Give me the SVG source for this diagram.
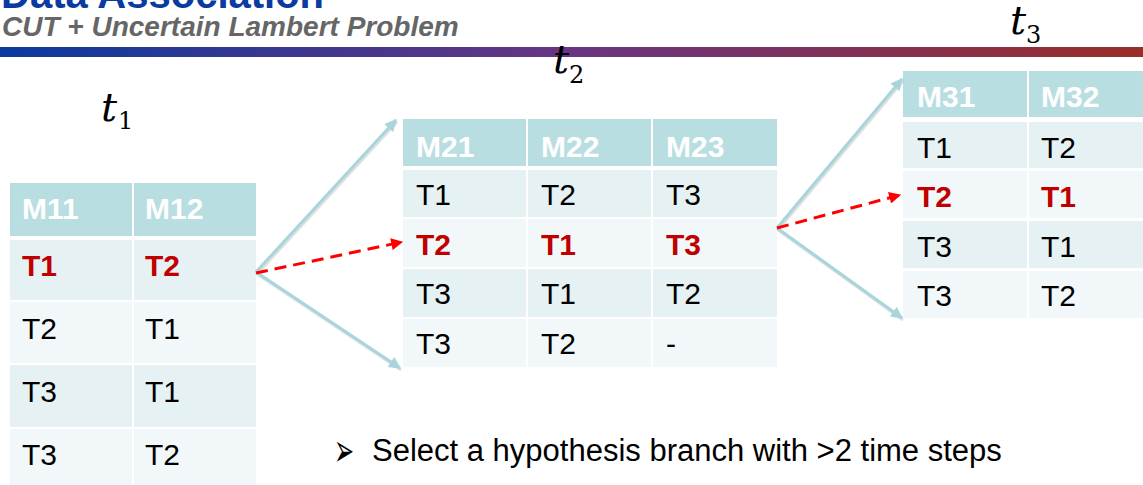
<svg xmlns="http://www.w3.org/2000/svg" width="1143" height="485" viewBox="0 0 1143 485">
<defs>
<linearGradient id="bar" x1="0" y1="0" x2="1" y2="0">
<stop offset="0" stop-color="#0B3A9E"/>
<stop offset="0.5" stop-color="#693581"/>
<stop offset="1" stop-color="#992D29"/>
</linearGradient>
<marker id="ah" viewBox="0 0 10 10" refX="9" refY="5" markerWidth="4.5" markerHeight="4" orient="auto" markerUnits="strokeWidth">
<path d="M0,0 L10,5 L0,10 z" fill="#A8D5DA"/>
</marker>
<marker id="ahr" viewBox="0 0 10 10" refX="9" refY="5" markerWidth="4.5" markerHeight="4" orient="auto" markerUnits="strokeWidth">
<path d="M0,0 L10,5 L0,10 z" fill="#FF0000"/>
</marker>
<style>
.hd{fill:#B8DEE1}
.dk{fill:#E5F1F3}
.lt{fill:#F2F8F9}
.th{font-family:"Liberation Sans",Arial,sans-serif;font-weight:bold;font-size:30px;fill:#FFFFFF}
.tx{font-family:"Liberation Sans",Arial,sans-serif;font-size:30px;fill:#000000}
.rd{font-family:"Liberation Sans",Arial,sans-serif;font-weight:bold;font-size:30px;fill:#C00000}
.tv{font-family:"DejaVu Serif",serif;font-style:italic;font-size:40px;fill:#000}
.ts{font-family:"DejaVu Serif",serif;font-size:24px;fill:#000}
.ar{fill:none;stroke:#A8D5DA;stroke-width:3}
.sh{fill:none;stroke:#000;stroke-opacity:0.12;stroke-width:3}
.rl{fill:none;stroke:#FF0000;stroke-width:3;stroke-dasharray:12 7}
</style>
</defs>
<rect width="1143" height="485" fill="#FFFFFF"/>
<g id="header">
<text x="1" y="8" font-family="Liberation Sans, Arial, sans-serif" font-weight="bold" font-size="40" fill="#0A3BA2">Data Association</text>
<text x="2" y="36" font-family="Liberation Sans, Arial, sans-serif" font-weight="bold" font-style="italic" font-size="28" fill="#666666">CUT + Uncertain Lambert Problem</text>
<rect x="0" y="47" width="1143" height="10" fill="url(#bar)"/>
</g>
<g id="label-t1"><text class="tv" x="101" y="121">t</text><text class="ts" x="118" y="129">1</text></g>
<g id="label-t2"><text class="tv" x="553" y="73">t</text><text class="ts" x="569" y="83">2</text></g>
<g id="label-t3"><text class="tv" x="1010" y="34">t</text><text class="ts" x="1026" y="43">3</text></g>
<g id="table1">
<rect class="hd" x="10" y="183" width="122" height="53"/><rect class="hd" x="134" y="183" width="122" height="53"/>
<rect class="dk" x="10" y="240" width="122" height="60"/><rect class="dk" x="134" y="240" width="122" height="60"/>
<rect class="lt" x="10" y="302" width="122" height="61"/><rect class="lt" x="134" y="302" width="122" height="61"/>
<rect class="dk" x="10" y="365" width="122" height="62"/><rect class="dk" x="134" y="365" width="122" height="62"/>
<rect class="lt" x="10" y="429" width="122" height="58"/><rect class="lt" x="134" y="429" width="122" height="58"/>
<text class="th" x="22" y="219">M11</text><text class="th" x="145" y="219">M12</text>
<text class="rd" x="22" y="276">T1</text><text class="rd" x="145" y="276">T2</text>
<text class="tx" x="22" y="339">T2</text><text class="tx" x="145" y="339">T1</text>
<text class="tx" x="22" y="402">T3</text><text class="tx" x="145" y="402">T1</text>
<text class="tx" x="22" y="465">T3</text><text class="tx" x="145" y="465">T2</text>
</g>
<g id="table2">
<rect class="hd" x="403" y="119" width="123" height="47"/><rect class="hd" x="528" y="119" width="123" height="47"/><rect class="hd" x="653" y="119" width="124" height="47"/>
<rect class="dk" x="403" y="170" width="123" height="47"/><rect class="dk" x="528" y="170" width="123" height="47"/><rect class="dk" x="653" y="170" width="124" height="47"/>
<rect class="lt" x="403" y="219" width="123" height="48"/><rect class="lt" x="528" y="219" width="123" height="48"/><rect class="lt" x="653" y="219" width="124" height="48"/>
<rect class="dk" x="403" y="269" width="123" height="48"/><rect class="dk" x="528" y="269" width="123" height="48"/><rect class="dk" x="653" y="269" width="124" height="48"/>
<rect class="lt" x="403" y="319" width="123" height="48"/><rect class="lt" x="528" y="319" width="123" height="48"/><rect class="lt" x="653" y="319" width="124" height="48"/>
<text class="th" x="416" y="157">M21</text><text class="th" x="541" y="157">M22</text><text class="th" x="666" y="157">M23</text>
<text class="tx" x="416" y="205">T1</text><text class="tx" x="541" y="205">T2</text><text class="tx" x="666" y="205">T3</text>
<text class="rd" x="416" y="255">T2</text><text class="rd" x="541" y="255">T1</text><text class="rd" x="666" y="255">T3</text>
<text class="tx" x="416" y="304">T3</text><text class="tx" x="541" y="304">T1</text><text class="tx" x="666" y="304">T2</text>
<text class="tx" x="416" y="354">T3</text><text class="tx" x="541" y="354">T2</text><text class="tx" x="666" y="354">-</text>
</g>
<g id="table3">
<rect class="hd" x="903" y="71" width="124" height="46"/><rect class="hd" x="1029" y="71" width="116" height="46"/>
<rect class="dk" x="903" y="122" width="124" height="46"/><rect class="dk" x="1029" y="122" width="116" height="46"/>
<rect class="lt" x="903" y="171" width="124" height="47"/><rect class="lt" x="1029" y="171" width="116" height="47"/>
<rect class="dk" x="903" y="221" width="124" height="47"/><rect class="dk" x="1029" y="221" width="116" height="47"/>
<rect class="lt" x="903" y="271" width="124" height="47"/><rect class="lt" x="1029" y="271" width="116" height="47"/>
<text class="th" x="917" y="107">M31</text><text class="th" x="1041" y="107">M32</text>
<text class="tx" x="917" y="158">T1</text><text class="tx" x="1041" y="158">T2</text>
<text class="rd" x="917" y="207">T2</text><text class="rd" x="1041" y="207">T1</text>
<text class="tx" x="917" y="257">T3</text><text class="tx" x="1041" y="257">T1</text>
<text class="tx" x="917" y="306">T3</text><text class="tx" x="1041" y="306">T2</text>
</g>
<g id="connectors">
<path class="sh" d="M257,274 L397,122"/>
<path class="sh" d="M257,274 L401,370"/>
<path class="ar" d="M256,272 L396,120" marker-end="url(#ah)"/>
<path class="ar" d="M256,272 L400,368" marker-end="url(#ah)"/>
<path class="rl" d="M256,273 L402,242" marker-end="url(#ahr)"/>
<path class="sh" d="M778,230 L903,81"/>
<path class="sh" d="M778,230 L903,320"/>
<path class="ar" d="M777,228 L902,79" marker-end="url(#ah)"/>
<path class="ar" d="M777,228 L902,318" marker-end="url(#ah)"/>
<path class="rl" d="M777,228 L900,195" marker-end="url(#ahr)"/>
</g>
<g id="note">
<text transform="translate(334,466) scale(1,1.9)" font-family="DejaVu Sans, sans-serif" font-size="24" fill="#000">➢</text>
<text x="372" y="461" font-family="Liberation Sans, Arial, sans-serif" font-size="31" fill="#000">Select a hypothesis branch with &gt;2 time steps</text>
</g>
</svg>
